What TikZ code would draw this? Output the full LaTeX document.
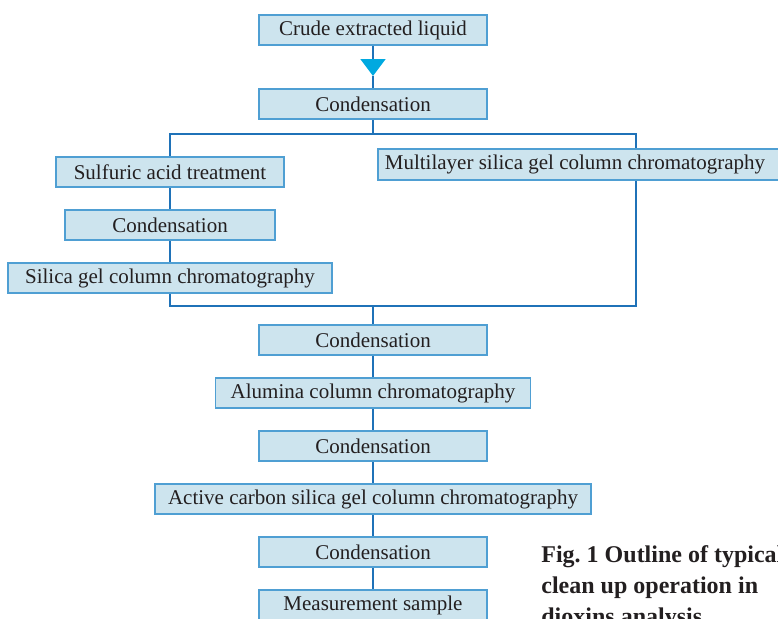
\documentclass[tikz,border=0pt]{standalone}
\usepackage{fontspec}
\setmainfont{Liberation Serif}
\usetikzlibrary{arrows.meta,backgrounds}

\definecolor{boxfill}{HTML}{CDE4EE}
\definecolor{boxline}{HTML}{4F9FD3}
\definecolor{linkblue}{HTML}{1F72B8}
\definecolor{arrowcyan}{HTML}{00A9E0}
\definecolor{textgray}{HTML}{231F20}

\begin{document}
\begin{tikzpicture}[
  x=0.5pt, y=-0.5pt,
  every node/.style={font=\fontsize{10.5}{12}\selectfont, text=textgray},
  stage/.style={draw=boxline, fill=boxfill, line width=0.7pt,
    minimum height=15pt, inner sep=0pt},
  link/.style={draw=linkblue, line width=1pt},
  caption/.style={anchor=base west, inner sep=0pt,
    font=\fontsize{12}{15.5}\selectfont\bfseries},
]
\useasboundingbox (0, 0) rectangle (778, 618);
\clip (0, 0) rectangle (778, 618);

% top of the flow
\node[stage, minimum width=114pt] (crude) at (373, 30) {Crude extracted liquid};
\node[stage, minimum width=114pt] (cond1) at (373, 104) {Condensation};
\coordinate (tip) at (373, 76);

% two branches
\node[stage, minimum width=114pt] (sulf)   at (170, 172) {Sulfuric acid treatment};
\node[stage, minimum width=105pt] (cond2)  at (170, 225) {Condensation};
\node[stage, minimum width=162pt] (silica) at (170, 278) {Silica gel column chromatography};
\node[stage, minimum width=201pt, minimum height=15.5pt] (multi) at (579, 164.5)
  {\hspace*{-4pt}Multilayer silica gel column chromatography\hfill};

\coordinate (splitR) at (636, 134);
\coordinate (joinR)  at (636, 305.5);

% common tail
\foreach \name/\txt/\boxw [count=\k from 0] in {
    cond3/Condensation/114pt,
    alumina/Alumina column chromatography/157.5pt,
    cond4/Condensation/114pt,
    active/Active carbon silica gel column chromatography/218pt,
    cond5/Condensation/114pt,
    meas/Measurement sample/114pt} {
  \node[stage, minimum width=\boxw] (\name) at (373, 340 + \k*53) {\txt};
}

\node[caption] (cap1) at (541, 562) {Fig.\ 1 Outline of typical};
\node[caption] (cap2) at (541, 593) {clean up operation in};
\node[caption] (cap3) at (541, 624) {dioxins analysis};

\begin{scope}[on background layer]
  \draw[link, -{Triangle[width=12.5pt, length=8.5pt, color=arrowcyan]}]
    (crude.south) -- (tip);
  \draw[link] (tip) -- (cond1.north);
  \draw[link] (cond1.south) -- (cond1.south |- splitR);
  \draw[link] (sulf.north) |- (splitR) -- (joinR) -| (silica.south);
  \draw[link] (sulf) -- (cond2);
  \draw[link] (cond2) -- (silica);
  \draw[link] (cond3.north |- joinR) -- (cond3.north);
  \foreach \a/\b in {cond3/alumina, alumina/cond4, cond4/active,
      active/cond5, cond5/meas} {
    \draw[link] (\a) -- (\b);
  }
\end{scope}
\end{tikzpicture}
\end{document}
